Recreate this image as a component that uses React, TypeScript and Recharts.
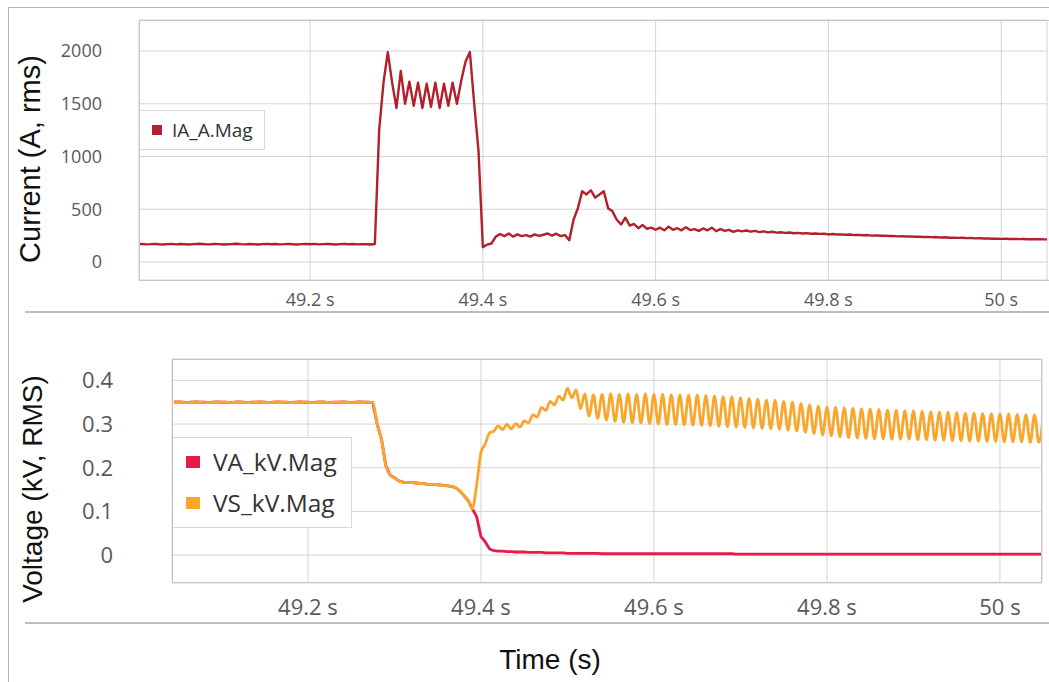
import { LineChart, Line, XAxis, YAxis, CartesianGrid, Legend } from 'recharts';

// sampling of the recorder export (5 ms per point)
const sampleStep = 0.005;
const currentStart = 49.0;
const voltageStart = 49.045;

const timeTicks = [49.2, 49.4, 49.6, 49.8, 50];
const currentTicks = [0, 500, 1000, 1500, 2000];
const voltageTicks = [0, 0.1, 0.2, 0.3, 0.4];

// IA_A.Mag, A rms
const iaValues = [
  168, 170, 167, 169, 172, 168, 166, 169, 171, 167,
  170, 168, 165, 169, 172, 170, 167, 168, 171, 169,
  166, 168, 170, 173, 169, 167, 170, 168, 166, 169,
  171, 168, 170, 167, 169, 172, 168, 166, 169, 170,
  168, 171, 167, 169, 170, 168, 166, 169, 171, 168,
  170, 167, 169, 168, 166, 170, 1250, 1700, 1990, 1700,
  1460, 1810, 1500, 1710, 1480, 1700, 1460, 1690, 1470, 1700,
  1460, 1690, 1480, 1700, 1500, 1720, 1900, 1990, 1500, 1050,
  140, 165, 175, 240, 265, 245, 270, 240, 262, 245,
  255, 240, 262, 248, 258, 270, 250, 268, 245, 255,
  205, 400, 510, 670, 640, 680, 610, 640, 670, 510,
  480, 400, 355, 420, 345, 360, 320, 350, 315, 325,
  305, 325, 300, 335, 305, 320, 300, 330, 302, 312,
  295, 318, 300, 325, 292, 312, 295, 305, 286, 300,
  290, 298, 287, 295, 283, 290, 280, 286, 278, 282,
  276, 279, 272, 276, 270, 273, 268, 270, 266, 268,
  262, 265, 260, 262, 258, 260, 255, 257, 253, 255,
  250, 252, 248, 250, 246, 247, 243, 245, 241, 243,
  239, 240, 237, 238, 235, 236, 232, 234, 230, 231,
  228, 229, 226, 227, 224, 225, 222, 223, 220, 221,
  219, 220, 218, 219, 217, 218, 216, 217, 215, 216,
  214, 215,
];

// VS_kV.Mag, kV rms
const vsValues = [
  0.350, 0.351, 0.350, 0.349, 0.350, 0.351, 0.350, 0.350, 0.349, 0.350,
  0.351, 0.350, 0.350, 0.349, 0.350, 0.351, 0.350, 0.349, 0.350, 0.350,
  0.351, 0.350, 0.349, 0.350, 0.351, 0.350, 0.350, 0.349, 0.350, 0.351,
  0.350, 0.350, 0.349, 0.350, 0.351, 0.350, 0.349, 0.350, 0.350, 0.351,
  0.350, 0.349, 0.350, 0.351, 0.350, 0.350, 0.349, 0.300, 0.265, 0.205,
  0.183, 0.177, 0.170, 0.167, 0.166, 0.166, 0.165, 0.164, 0.163, 0.162,
  0.162, 0.161, 0.160, 0.159, 0.157, 0.155, 0.148, 0.137, 0.125, 0.106,
  0.160, 0.235, 0.255, 0.280, 0.284, 0.296, 0.287, 0.299, 0.289, 0.301,
  0.293, 0.307, 0.303, 0.321, 0.316, 0.338, 0.331, 0.352, 0.344, 0.364,
  0.355, 0.382, 0.360, 0.378, 0.335, 0.369, 0.318, 0.367, 0.313, 0.368,
  0.309, 0.369, 0.306, 0.368, 0.304, 0.369, 0.303, 0.368, 0.302, 0.369,
  0.301, 0.368, 0.300, 0.368, 0.299, 0.367, 0.299, 0.367, 0.298, 0.366,
  0.297, 0.366, 0.297, 0.365, 0.296, 0.364, 0.295, 0.363, 0.294, 0.362,
  0.293, 0.360, 0.292, 0.359, 0.291, 0.357, 0.290, 0.355, 0.289, 0.354,
  0.288, 0.352, 0.286, 0.350, 0.284, 0.347, 0.281, 0.344, 0.278, 0.341,
  0.275, 0.339, 0.273, 0.338, 0.271, 0.337, 0.269, 0.336, 0.268, 0.335,
  0.267, 0.334, 0.266, 0.333, 0.266, 0.332, 0.265, 0.331, 0.265, 0.330,
  0.265, 0.330, 0.264, 0.329, 0.264, 0.328, 0.263, 0.327, 0.263, 0.327,
  0.262, 0.326, 0.262, 0.325, 0.261, 0.325, 0.261, 0.324, 0.260, 0.324,
  0.260, 0.323, 0.259, 0.323, 0.259, 0.322, 0.259, 0.321, 0.258, 0.321,
  0.258, 0.320,
];

// VA_kV.Mag follows VS until the breaker opens (sample 70 onward)
const vaTail = [
  0.088, 0.042, 0.030, 0.014, 0.010, 0.009, 0.009, 0.008, 0.008, 0.007,
  0.007, 0.007, 0.006, 0.006, 0.006, 0.006, 0.005, 0.005, 0.005, 0.005,
  0.005, 0.004, 0.004, 0.004, 0.004, 0.004, 0.004, 0.004, 0.004, 0.003,
  0.003, 0.003, 0.003, 0.003, 0.003, 0.003, 0.003, 0.003, 0.003, 0.003,
  0.003, 0.003, 0.003, 0.003, 0.003, 0.003, 0.003, 0.003, 0.003, 0.003,
  0.003, 0.003, 0.003, 0.003, 0.003, 0.003, 0.003, 0.003, 0.003, 0.003,
  0.002, 0.002, 0.002, 0.002, 0.002, 0.002, 0.002, 0.002, 0.002, 0.002,
  0.002, 0.002, 0.002, 0.002, 0.002, 0.002, 0.002, 0.002, 0.002, 0.002,
  0.002, 0.002, 0.002, 0.002, 0.002, 0.002, 0.002, 0.002, 0.002, 0.002,
  0.002, 0.002, 0.002, 0.002, 0.002, 0.002, 0.002, 0.002, 0.002, 0.002,
  0.002, 0.002, 0.002, 0.002, 0.002, 0.002, 0.002, 0.002, 0.002, 0.002,
  0.002, 0.002, 0.002, 0.002, 0.002, 0.002, 0.002, 0.002, 0.002, 0.002,
  0.002, 0.002, 0.002, 0.002, 0.002, 0.002, 0.002, 0.002, 0.002, 0.002,
  0.002, 0.002,
];
const vaValues = [...vsValues.slice(0, 70), ...vaTail];

const IA_COLOR = '#b31f2a';
const VA_COLOR = '#e8194b';
const VS_COLOR = '#f8a72c';

const currentData = iaValues.map((ia, i) => ({
  t: Number((currentStart + i * sampleStep).toFixed(3)),
  ia,
}));

const voltageData = vsValues.map((vs, j) => ({
  t: Number((voltageStart + j * sampleStep).toFixed(3)),
  va: vaValues[j],
  vs,
}));

const tickFont = '"Open Sans", "Noto Sans", sans-serif';
const titleFont = '"Liberation Sans", Arial, sans-serif';
const fmtTime = (v: number) => `${v} s`;

type LegendItem = { label: string; color: string };

function LegendBox({ items, fontSize, swatchW, swatchH, width, height, padLeft, gap }: {
  items: LegendItem[]; fontSize: number; swatchW: number; swatchH: number;
  width: number; height: number; padLeft: number; gap: number;
}) {
  return (
    <div style={{
      width, height, boxSizing: 'border-box', border: '1px solid #d9d9d9', background: '#fff',
      display: 'flex', flexDirection: 'column', justifyContent: 'center', paddingLeft: padLeft,
      fontFamily: tickFont, fontSize, color: '#333', gap,
    }}>
      {items.map((it) => (
        <div key={it.label} style={{ display: 'flex', alignItems: 'center', lineHeight: 1 }}>
          <span style={{ display: 'inline-block', width: swatchW, height: swatchH, background: it.color, marginRight: gap === 0 ? 10 : 13 }} />
          <span>{it.label}</span>
        </div>
      ))}
    </div>
  );
}

function AxisTitle({ text, x, y, rotate, size = 28 }: { text: string; x: number; y: number; rotate?: boolean; size?: number }) {
  return (
    <div style={{
      position: 'absolute', left: x, top: y, whiteSpace: 'nowrap',
      transform: `translate(-50%, -50%)${rotate ? ' rotate(-90deg)' : ''}`,
      fontFamily: titleFont, fontSize: size, color: '#111', lineHeight: 1,
    }}>{text}</div>
  );
}

function HLine({ x, y, w, h = 2, color = '#bdbdbd' }: { x: number; y: number; w: number; h?: number; color?: string }) {
  return <div style={{ position: 'absolute', left: x, top: y, width: w, height: h, background: color }} />;
}

export default function App() {
  const smallTick = { fill: '#595959', fontSize: 18, fontFamily: tickFont };
  const bigTick = { fill: '#595959', fontSize: 22, fontFamily: tickFont };
  return (
    <div style={{ position: 'relative', width: 1049, height: 682, overflow: 'hidden', background: '#fff' }}>
      <style>{'body{margin:0;overflow:hidden;background:#fff}'}</style>

      {/* outer frame */}
      <div style={{ position: 'absolute', left: 8, top: 7, width: 1041, height: 675, borderLeft: '1px solid #b5b5b5', borderTop: '1px solid #b5b5b5' }} />

      {/* current panel */}
      <div style={{ position: 'absolute', left: 0, top: 0 }}>
        <LineChart width={1049} height={320} data={currentData} margin={{ top: 20, right: 2, bottom: 0, left: 0 }}>
          <CartesianGrid stroke="#d4d4d4" strokeWidth={1} />
          <XAxis type="number" dataKey="t" domain={[49.002, 50.053]} allowDataOverflow ticks={timeTicks}
            tickFormatter={fmtTime} interval={0} height={40} axisLine={false} tickLine={false}
            tickSize={0} tickMargin={13} tick={smallTick} />
          <YAxis type="number" domain={[-171, 2294]} allowDataOverflow ticks={currentTicks} interval={0}
            width={139} axisLine={false} tickLine={false} tickSize={0} tickMargin={37} tick={smallTick} />
          <Legend layout="vertical" align="center" verticalAlign="middle"
            wrapperStyle={{ left: 139, top: 110, width: 'auto', height: 'auto' }}
            content={() => (
              <LegendBox items={[{ label: 'IA_A.Mag', color: IA_COLOR }]} fontSize={19}
                swatchW={10} swatchH={10} width={126} height={40} padLeft={12} gap={0} />
            )} />
          <Line type="linear" dataKey="ia" name="IA_A.Mag" stroke={IA_COLOR} strokeWidth={2.4}
            strokeLinejoin="round" dot={false} isAnimationActive={false} />
        </LineChart>
      </div>
      <div style={{ position: 'absolute', left: 139, top: 20, width: 910, height: 259, borderLeft: '1px solid #c6c6c6', borderTop: '1px solid #c6c6c6', borderBottom: '1px solid #c6c6c6', pointerEvents: 'none' }} />
      <AxisTitle text="Current (A, rms)" x={30} y={159} rotate size={29} />
      <HLine x={25} y={311} w={1024} />

      {/* voltage panel */}
      <div style={{ position: 'absolute', left: 0, top: 330 }}>
        <LineChart width={1049} height={300} data={voltageData} margin={{ top: 29, right: 7, bottom: 0, left: 0 }}>
          <CartesianGrid stroke="#d4d4d4" strokeWidth={1} />
          <XAxis type="number" dataKey="t" domain={[49.0428, 50.0486]} allowDataOverflow ticks={timeTicks}
            tickFormatter={fmtTime} interval={0} height={47} axisLine={false} tickLine={false}
            tickSize={0} tickMargin={16} tick={bigTick} />
          <YAxis type="number" domain={[-0.064, 0.449]} allowDataOverflow ticks={voltageTicks} interval={0}
            width={172} axisLine={false} tickLine={false} tickSize={0} tickMargin={59} tick={bigTick} />
          <Legend layout="vertical" align="center" verticalAlign="middle"
            wrapperStyle={{ left: 172, top: 107, width: 'auto', height: 'auto' }}
            content={() => (
              <LegendBox items={[{ label: 'VA_kV.Mag', color: VA_COLOR }, { label: 'VS_kV.Mag', color: VS_COLOR }]}
                fontSize={24.5} swatchW={14} swatchH={12} width={180} height={91} padLeft={13} gap={17} />
            )} />
          <Line type="linear" dataKey="va" name="VA_kV.Mag" stroke={VA_COLOR} strokeWidth={2.8}
            strokeLinejoin="round" dot={false} isAnimationActive={false} />
          <Line type="monotone" dataKey="vs" name="VS_kV.Mag" stroke={VS_COLOR} strokeWidth={2.8}
            strokeLinejoin="round" dot={false} isAnimationActive={false} />
        </LineChart>
      </div>
      <div style={{ position: 'absolute', left: 172, top: 359, width: 870, height: 224, boxSizing: 'border-box', border: '1px solid #c6c6c6', pointerEvents: 'none' }} />
      <AxisTitle text="Voltage (kV, RMS)" x={33} y={489} rotate />
      <HLine x={25} y={622} w={1024} />

      <AxisTitle text="Time (s)" x={550} y={660} />
    </div>
  );
}
